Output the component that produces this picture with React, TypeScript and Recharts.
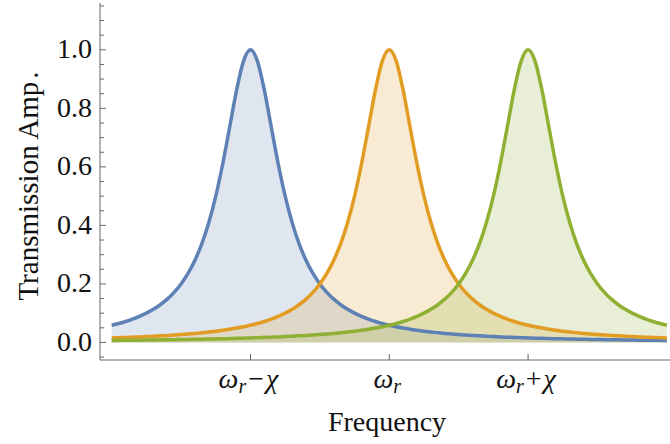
import React from 'react';
import { ComposedChart, Area, Line, XAxis, YAxis, Label } from 'recharts';

const freq = [
  -2, -1.95, -1.9, -1.85, -1.8, -1.75, -1.7, -1.65, -1.6, -1.55, -1.5, -1.45, -1.4, -1.35, -1.3, -1.25, -1.2, -1.15, -1.1, -1.05,
  -1, -0.95, -0.9, -0.85, -0.8, -0.75, -0.7, -0.65, -0.6, -0.55, -0.5, -0.45, -0.4, -0.35, -0.3, -0.25, -0.2, -0.15, -0.1, -0.05,
  0, 0.05, 0.1, 0.15, 0.2, 0.25, 0.3, 0.35, 0.4, 0.45, 0.5, 0.55, 0.6, 0.65, 0.7, 0.75, 0.8, 0.85, 0.9, 0.95,
  1, 1.05, 1.1, 1.15, 1.2, 1.25, 1.3, 1.35, 1.4, 1.45, 1.5, 1.55, 1.6, 1.65, 1.7, 1.75, 1.8, 1.85, 1.9, 1.95, 2,
];

const blueSeries = [
  0.0588, 0.0648, 0.0716, 0.0796, 0.0890, 0.1000, 0.1131, 0.1289, 0.1479, 0.1712, 0.2000, 0.2358, 0.2809, 0.3378, 0.4098, 0.5000, 0.6098, 0.7353, 0.8621, 0.9615,
  1.0000, 0.9615, 0.8621, 0.7353, 0.6098, 0.5000, 0.4098, 0.3378, 0.2809, 0.2358, 0.2000, 0.1712, 0.1479, 0.1289, 0.1131, 0.1000, 0.0890, 0.0796, 0.0716, 0.0648,
  0.0588, 0.0536, 0.0491, 0.0451, 0.0416, 0.0385, 0.0357, 0.0332, 0.0309, 0.0289, 0.0270, 0.0254, 0.0238, 0.0225, 0.0212, 0.0200, 0.0189, 0.0179, 0.0170, 0.0162,
  0.0154, 0.0147, 0.0140, 0.0133, 0.0127, 0.0122, 0.0117, 0.0112, 0.0107, 0.0103, 0.0099, 0.0095, 0.0092, 0.0088, 0.0085, 0.0082, 0.0079, 0.0076, 0.0074, 0.0071, 0.0069,
];

const orangeSeries = [
  0.0154, 0.0162, 0.0170, 0.0179, 0.0189, 0.0200, 0.0212, 0.0225, 0.0238, 0.0254, 0.0270, 0.0289, 0.0309, 0.0332, 0.0357, 0.0385, 0.0416, 0.0451, 0.0491, 0.0536,
  0.0588, 0.0648, 0.0716, 0.0796, 0.0890, 0.1000, 0.1131, 0.1289, 0.1479, 0.1712, 0.2000, 0.2358, 0.2809, 0.3378, 0.4098, 0.5000, 0.6098, 0.7353, 0.8621, 0.9615,
  1.0000, 0.9615, 0.8621, 0.7353, 0.6098, 0.5000, 0.4098, 0.3378, 0.2809, 0.2358, 0.2000, 0.1712, 0.1479, 0.1289, 0.1131, 0.1000, 0.0890, 0.0796, 0.0716, 0.0648,
  0.0588, 0.0536, 0.0491, 0.0451, 0.0416, 0.0385, 0.0357, 0.0332, 0.0309, 0.0289, 0.0270, 0.0254, 0.0238, 0.0225, 0.0212, 0.0200, 0.0189, 0.0179, 0.0170, 0.0162, 0.0154,
];

const greenSeries = [
  0.0069, 0.0071, 0.0074, 0.0076, 0.0079, 0.0082, 0.0085, 0.0088, 0.0092, 0.0095, 0.0099, 0.0103, 0.0107, 0.0112, 0.0117, 0.0122, 0.0127, 0.0133, 0.0140, 0.0147,
  0.0154, 0.0162, 0.0170, 0.0179, 0.0189, 0.0200, 0.0212, 0.0225, 0.0238, 0.0254, 0.0270, 0.0289, 0.0309, 0.0332, 0.0357, 0.0385, 0.0416, 0.0451, 0.0491, 0.0536,
  0.0588, 0.0648, 0.0716, 0.0796, 0.0890, 0.1000, 0.1131, 0.1289, 0.1479, 0.1712, 0.2000, 0.2358, 0.2809, 0.3378, 0.4098, 0.5000, 0.6098, 0.7353, 0.8621, 0.9615,
  1.0000, 0.9615, 0.8621, 0.7353, 0.6098, 0.5000, 0.4098, 0.3378, 0.2809, 0.2358, 0.2000, 0.1712, 0.1479, 0.1289, 0.1131, 0.1000, 0.0890, 0.0796, 0.0716, 0.0648, 0.0588,
];

const yTicks = [
  -0.05, 0, 0.05, 0.1, 0.15, 0.2, 0.25, 0.3, 0.35, 0.4, 0.45, 0.5, 0.55, 0.6, 0.65, 0.7, 0.75, 0.8, 0.85, 0.9, 0.95, 1, 1.05, 1.1, 1.15,
];
const yMajorTicks = [0, 0.2, 0.4, 0.6, 0.8, 1];

const xTicks = [-1, 0, 1];
const xTickLabels = [
  { main: 'ω', sub: 'r', op: '−', sym: 'χ' },
  { main: 'ω', sub: 'r', op: '', sym: '' },
  { main: 'ω', sub: 'r', op: '+', sym: 'χ' },
];

const BLUE = '#5E81B5';
const ORANGE = '#E19C24';
const GREEN = '#8FB032';
const AXIS = '#666666';
const FONT = "'Liberation Serif', 'Times New Roman', serif";

const data = freq.map((f, i) => ({
  f,
  blue: blueSeries[i],
  orange: orangeSeries[i],
  green: greenSeries[i],
}));

function YTick(props: any) {
  const { x, y, payload } = props;
  const v = payload.value as number;
  const major = yMajorTicks.some((m) => Math.abs(m - v) < 1e-6);
  return (
    <g>
      <line x1={x} x2={x + (major ? 6 : 4)} y1={y} y2={y} stroke={AXIS} strokeWidth={1} />
      {major && (
        <text x={x - 8} y={y} dy="0.3em" textAnchor="end" style={{ fontFamily: FONT, fontSize: 28 }} fill="#111">
          {v.toFixed(1)}
        </text>
      )}
    </g>
  );
}

function XTick(props: any) {
  const { x, y, payload } = props;
  const idx = xTicks.findIndex((t) => Math.abs(t - payload.value) < 1e-6);
  const lab = xTickLabels[idx] || xTickLabels[1];
  return (
    <g>
      <line x1={x} x2={x} y1={y} y2={y - 6} stroke={AXIS} strokeWidth={1} />
      <text x={x - 2} y={y + 28} textAnchor="middle" style={{ fontFamily: FONT, fontSize: 28 }} fill="#111">
        <tspan fontStyle="italic">{lab.main}</tspan>
        <tspan fontStyle="italic" style={{ fontSize: 20 }} dy={5}>{lab.sub}</tspan>
        <tspan dy={-5} dx={lab.op ? 2 : 0}>{lab.op}</tspan>
        <tspan fontStyle="italic" dx={lab.op ? 2 : 0}>{lab.sym}</tspan>
      </text>
    </g>
  );
}

export default function App() {
  return (
    <div style={{ position: 'absolute', left: 0, top: 0, width: 670, height: 444, overflow: 'hidden', background: '#fff' }}>
      <ComposedChart width={690} height={444} data={data} margin={{ top: 3, right: 12, bottom: 0, left: 0 }}>
        <XAxis
          dataKey="f"
          type="number"
          domain={[-2.084, 2.08]}
          allowDataOverflow
          ticks={xTicks}
          interval={0}
          tickLine={false}
          tickSize={0}
          tickMargin={0}
          tick={<XTick />}
          axisLine={{ stroke: AXIS, strokeWidth: 1 }}
          height={84}
        >
          <Label
            content={(p: any) => {
              const vb = p.viewBox || { x: 100, y: 360, width: 578, height: 84 };
              return (
                <text x={vb.x + vb.width / 2 - 2} y={vb.y + 71} textAnchor="middle" style={{ fontFamily: FONT, fontSize: 28 }} fill="#111">
                  Frequency
                </text>
              );
            }}
          />
        </XAxis>
        <XAxis
          xAxisId="top"
          dataKey="f"
          type="number"
          orientation="top"
          domain={[-2.084, 2.08]}
          allowDataOverflow
          tick={false}
          tickLine={false}
          height={0}
          axisLine={{ stroke: AXIS, strokeWidth: 1 }}
        />
        <YAxis
          type="number"
          domain={[-0.06, 1.16]}
          allowDataOverflow
          ticks={yTicks}
          interval={0}
          tickLine={false}
          tickSize={0}
          tickMargin={0}
          tick={<YTick />}
          axisLine={{ stroke: AXIS, strokeWidth: 1 }}
          width={100}
        >
          <Label
            content={(p: any) => {
              const vb = p.viewBox || { x: 0, y: 3, width: 100, height: 357 };
              const cx = vb.x + 28;
              const cy = vb.y + 183;
              return (
                <text
                  x={cx}
                  y={cy}
                  transform={`rotate(-90, ${cx}, ${cy})`}
                  textAnchor="middle"
                  dy="0.34em"
                  style={{ fontFamily: FONT, fontSize: 29 }}
                  fill="#111"
                >
                  Transmission Amp<tspan dx={3}>.</tspan>
                </text>
              );
            }}
          />
        </YAxis>
        <Area type="monotone" dataKey="blue" baseValue={0} stroke="none" fill={BLUE} fillOpacity={0.2} isAnimationActive={false} />
        <Area type="monotone" dataKey="orange" baseValue={0} stroke="none" fill={ORANGE} fillOpacity={0.2} isAnimationActive={false} />
        <Area type="monotone" dataKey="green" baseValue={0} stroke="none" fill={GREEN} fillOpacity={0.2} isAnimationActive={false} />
        <Line type="monotone" dataKey="blue" stroke={BLUE} strokeWidth={3.5} dot={false} isAnimationActive={false} />
        <Line type="monotone" dataKey="orange" stroke={ORANGE} strokeWidth={3.5} dot={false} isAnimationActive={false} />
        <Line type="monotone" dataKey="green" stroke={GREEN} strokeWidth={3.5} dot={false} isAnimationActive={false} />
      </ComposedChart>
    </div>
  );
}
